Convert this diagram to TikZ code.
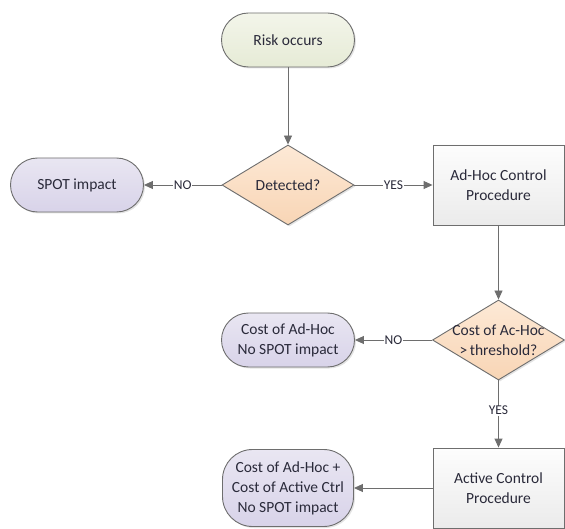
\documentclass[tikz,border=0pt]{standalone}
\usepackage{fontspec}
\setmainfont{Carlito}
\usetikzlibrary{shapes.geometric,shapes.misc,arrows.meta,shadows}
\definecolor{gtop}{HTML}{F3F5EA}
\definecolor{gbot}{HTML}{E6EBD6}
\definecolor{ptop}{HTML}{E9E6F2}
\definecolor{pbot}{HTML}{D8D3E9}
\definecolor{otop}{HTML}{FDE9D6}
\definecolor{obot}{HTML}{F8D5B5}
\definecolor{btop}{HTML}{FDFDFD}
\definecolor{bbot}{HTML}{EBEBEB}
\definecolor{edge}{HTML}{6E6E6E}
\definecolor{txt}{HTML}{2A2A3A}
\begin{document}
\begin{tikzpicture}[x=1pt,y=-1pt,
  textstyle/.style={text=txt,font=\fontsize{15.5}{20}\selectfont,align=center,inner sep=0pt},
  base/.style={textstyle,draw=edge,line width=0.9pt,
    drop shadow={shadow xshift=1.5pt,shadow yshift=-1.5pt,fill=black!22}},
  pill/.style={base,rectangle,rounded corners=27pt,minimum width=133pt,minimum height=54pt},
  startpill/.style={pill,top color=gtop,bottom color=gbot},
  endpill/.style={pill,top color=ptop,bottom color=pbot},
  decision/.style={base,diamond,aspect=1.65,minimum width=132pt,minimum height=80pt,top color=otop,bottom color=obot},
  procbox/.style={base,rectangle,minimum width=131pt,minimum height=80pt,top color=btop,bottom color=bbot},
  conn/.style={draw=edge,line width=0.9pt,-{Triangle[length=9pt,width=8pt]}},
  lbl/.style={fill=white,inner sep=0.5pt,text=txt,font=\fontsize{13.5}{15}\selectfont}
]
\useasboundingbox (0,0) rectangle (565,529);
\node[startpill] (risk) at (288,40) {Risk occurs};
\node[decision] (det) at (288,185) {Detected?};
\node[endpill] (spot) at (77,185) {SPOT impact};
\node[procbox] (adhoc) at (498.5,185) {Ad-Hoc Control\\Procedure};
\node[decision] (cost) at (498.5,340) {};
\node[textstyle] (costtxt) at (cost.center) {Cost of Ac-Hoc\\ >\,threshold?};
\node[endpill] (noimp) at (288,340) {Cost of Ad-Hoc\\No SPOT impact};
\node[procbox] (active) at (498.5,488) {Active Control\\Procedure};
\node[endpill,rounded corners=30pt,minimum height=77pt,minimum width=131pt] (both) at (288,488) {Cost of Ad-Hoc +\\Cost of Active Ctrl\\No SPOT impact};
\draw[conn] (risk) -- (det);
\draw[conn] (det) -- node[lbl] {NO} (spot);
\draw[conn] (det) -- node[lbl] {YES} (adhoc);
\draw[conn] (adhoc) -- (cost);
\draw[conn] (cost) -- node[lbl] {NO} (noimp);
\draw[conn] (cost) -- node[lbl,pos=0.45] {YES} (active);
\draw[conn] (active) -- (both);
\end{tikzpicture}
\end{document}
